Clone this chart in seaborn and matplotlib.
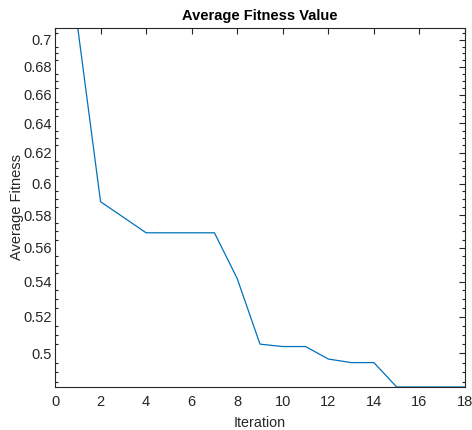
import numpy as np
import pandas as pd
import matplotlib
matplotlib.use("Agg")
import matplotlib.pyplot as plt
import matplotlib.ticker as mticker
import seaborn as sns

iterations = [1, 2, 3, 4, 5, 6, 7, 8, 9, 10, 11, 12, 13, 14, 15, 16, 17, 18]
avg_fitness = [0.709, 0.5884, 0.5787, 0.5691, 0.5691, 0.5691, 0.5691, 0.5418,
               0.505, 0.5037, 0.5037, 0.497, 0.4951, 0.4951, 0.4823, 0.4823,
               0.4823, 0.4823]
y_major = [0.5, 0.52, 0.54, 0.56, 0.58, 0.6, 0.62, 0.64, 0.66, 0.68, 0.7]
x_major = [0, 2, 4, 6, 8, 10, 12, 14, 16, 18]

df = pd.DataFrame({"Iteration": iterations, "Average Fitness": avg_fitness})

sns.set_style("white")
plt.rcParams['font.family'] = ['Liberation Sans', 'DejaVu Sans']

fig = plt.figure(figsize=(4.72, 4.30), dpi=100)
ax = fig.add_axes([55/472, 1 - 387/430, (465-55)/472, (387-28)/430])

sns.lineplot(data=df, x="Iteration", y="Average Fitness", ax=ax,
             color="#0072BD", linewidth=0.9)

ax.set_yscale("log")
ax.set_xlim(0, 18)
ax.set_ylim(min(avg_fitness), max(avg_fitness))

ax.yaxis.set_major_locator(mticker.FixedLocator(y_major))
ax.yaxis.set_major_formatter(mticker.FuncFormatter(lambda v, p: f"{v:g}"))
ax.yaxis.set_minor_locator(mticker.MultipleLocator(0.005))
ax.yaxis.set_minor_formatter(mticker.NullFormatter())
ax.set_xticks(x_major)
ax.set_xticklabels([str(v) for v in x_major])

grey = "#262626"
for s in ax.spines.values():
    s.set_visible(True)
    s.set_color(grey)
    s.set_linewidth(0.8)

ax.tick_params(axis="both", which="major", direction="in", length=4.5,
               width=0.8, color=grey, labelcolor=grey, labelsize=10.5,
               top=True, right=True)
ax.tick_params(axis="y", which="major", pad=2)
ax.tick_params(axis="x", which="major", pad=6)
ax.tick_params(axis="y", which="minor", direction="in", length=2.5,
               width=0.8, color=grey, left=True, right=True)
ax.tick_params(axis="x", which="minor", bottom=False, top=False)

ax.set_title("Average Fitness Value", fontsize=10.5, fontweight="bold",
             color="black", pad=6)
ax.set_xlabel("Iteration", fontsize=10.3, color=grey, labelpad=5)
ax.set_ylabel("Average Fitness", fontsize=10.5, color=grey, labelpad=0)

fig.savefig("out.png", dpi=100)
